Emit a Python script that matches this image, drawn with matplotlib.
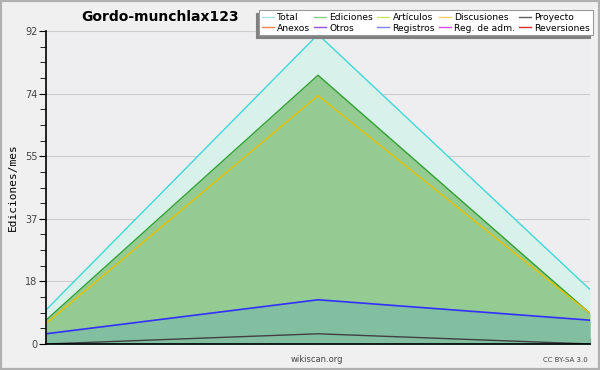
import matplotlib
matplotlib.use("Agg")
import matplotlib.pyplot as plt
from matplotlib.patches import Rectangle
from matplotlib.ticker import FixedLocator, MultipleLocator

# datos (3 meses)
meses = [0, 1, 2]
total = [10, 91, 16]
ediciones = [7, 79, 9]
articulos = [6, 73, 9]
registros = [3, 13, 7]
proyecto = [0, 3, 0]

leyenda = ["Total", "Anexos", "Ediciones", "Otros", "Artículos", "Registros",
           "Discusiones", "Reg. de adm.", "Proyecto", "Reversiones"]
colores_leyenda = ["#a8e4e4", "#f08850", "#88cc88", "#9050e0", "#c8e860", "#8080f0",
                   "#f0d060", "#d050e0", "#606060", "#e03030"]

yticks = [0, 18.4, 36.8, 55.2, 73.6, 92]
ytick_labels = ["0", "18", "37", "55", "74", "92"]

fig = plt.figure(figsize=(6, 3.7), dpi=100, facecolor="#f0f0f0")
ax = fig.add_axes([46/600, 26/370, 544/600, 313/370])
ax.set_facecolor("#eeeef0")

# areas
ax.fill_between(meses, total, 0, color="#d8f1ea", lw=0)
ax.fill_between(meses, ediciones, 0, color="#93cb93", lw=0)
ax.fill_between(meses, registros, 0, color="#82bfa0", lw=0)

# lineas
ax.plot(meses, total, color="#40d8d8", lw=1)
ax.plot(meses, ediciones, color="#30a030", lw=1)
ax.plot(meses, articulos, color="#e8c000", lw=1)
ax.plot(meses, registros, color="#3030ff", lw=1.2)
ax.plot(meses, proyecto, color="#404040", lw=1)

ax.set_xlim(0, 2)
ax.set_ylim(0, 92)
ax.yaxis.set_major_locator(FixedLocator(yticks))
ax.set_yticklabels(ytick_labels)
ax.yaxis.set_minor_locator(MultipleLocator(4.6))
ax.set_xticks(meses)
ax.set_xticklabels([])
ax.grid(axis="y", which="major", color="#cccccc", lw=0.8)
ax.set_axisbelow(True)

for s in ["top", "right"]:
    ax.spines[s].set_visible(False)
ax.spines["left"].set_linewidth(1.2)
ax.spines["bottom"].set_linewidth(1.2)
ax.tick_params(axis="y", which="major", length=5, labelsize=7, labelcolor="#444444", pad=1)
ax.tick_params(axis="y", which="minor", length=4)
ax.tick_params(axis="x", length=4, direction="in")

ax.set_ylabel("Ediciones/mes", fontsize=8, family="DejaVu Sans Mono")
ax.yaxis.set_label_coords(-0.052, 0.5)

fig.text(160/600, 1 - 17/370, "Gordo-munchlax123", fontsize=10, fontweight="bold",
         ha="center", va="center")
fig.text(317/600, 1 - 360/370, "wikiscan.org", fontsize=6, color="#444444",
         ha="center", va="center")
fig.text(588/600, 1 - 360/370, "CC BY-SA 3.0", fontsize=5, color="#444444",
         ha="right", va="center")

handles = [plt.Line2D([], [], color=c, lw=1) for c in colores_leyenda]
leg = fig.legend(handles, leyenda, ncol=5, loc="upper right",
                 bbox_to_anchor=(593/600, 1 - 10/370), fontsize=6.6,
                 frameon=True, fancybox=False,
                 shadow={"color": "#808080", "alpha": 1, "ox": -2.2, "oy": -2.2},
                 handlelength=1.3, handletextpad=0.35, columnspacing=0.45,
                 labelspacing=0.2, borderpad=0.3, borderaxespad=0)
leg.get_frame().set_edgecolor("#999999")
leg.get_frame().set_linewidth(0.8)

# marco de la figura
fig.patches.append(Rectangle((0, 0), 1, 1, transform=fig.transFigure, fill=False,
                             edgecolor="#b0b0b0", lw=3))

fig.savefig("out.png", dpi=100, facecolor=fig.get_facecolor())
